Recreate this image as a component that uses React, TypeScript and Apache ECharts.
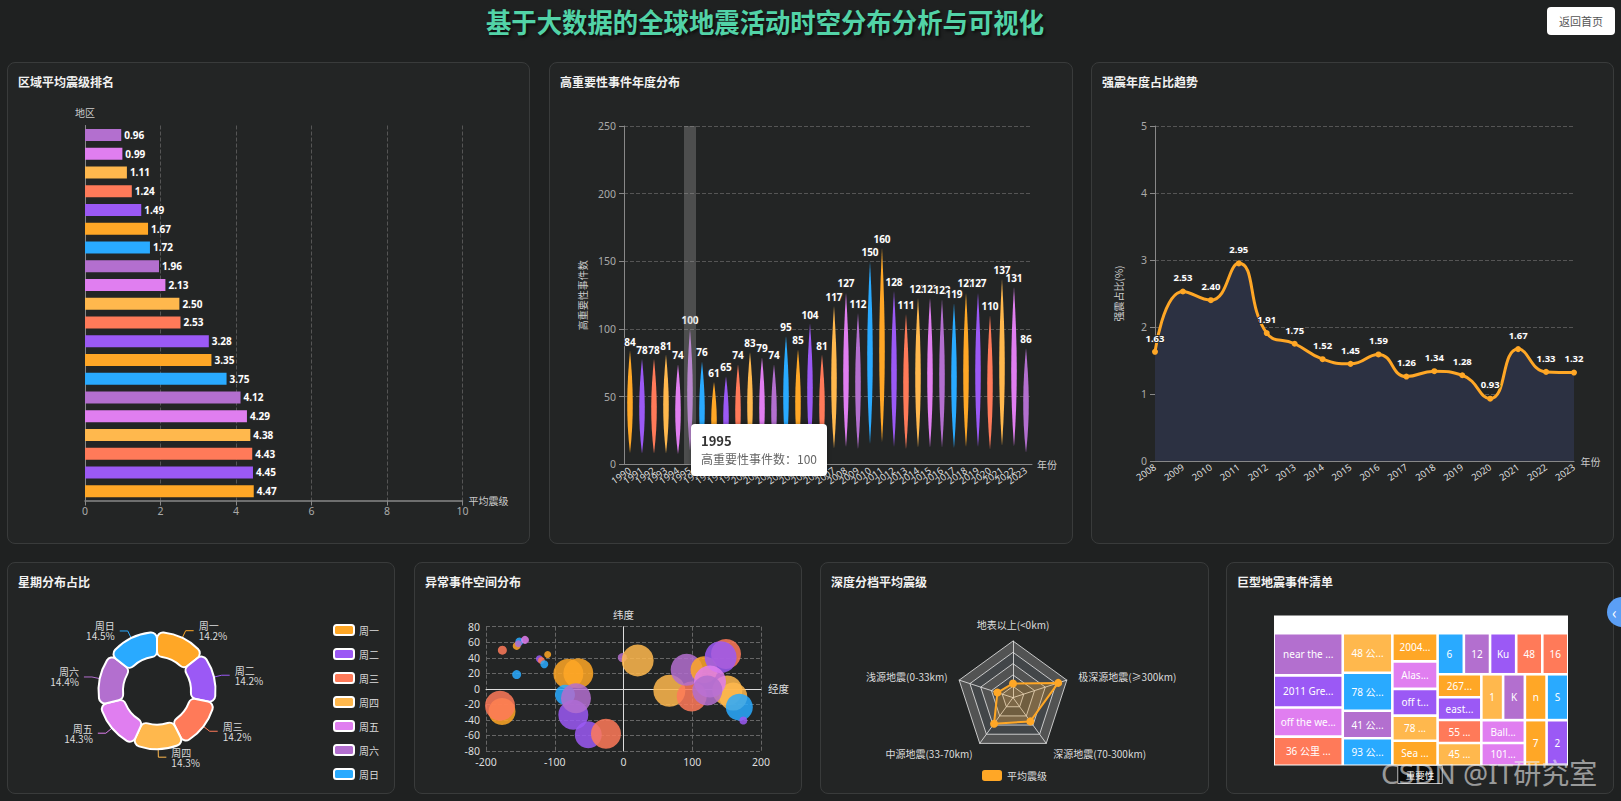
import React, { useEffect, useLayoutEffect, useRef } from 'react';
import * as echarts from 'echarts';

const PALETTE = ['#ffa726', '#9b59f5', '#ff7a59', '#ffb84d', '#e07ef0', '#b36fcf', '#29aaff'];
const FONT = "'Noto Sans', 'Noto Sans CJK SC', sans-serif";
const CJK = "'Noto Sans CJK SC', 'Noto Sans', sans-serif";

// ---------- 区域平均震级排名 (index 0 = bottom bar) ----------
const regionNames = ['汤加群岛', '斐济群岛', '智利中部', '苏门答腊', '日本本州', '千岛群岛', '秘鲁沿海', '巴布亚新几内亚', '所罗门群岛', '阿留申群岛',
  '墨西哥南部', '菲律宾群岛', '新西兰', '中国西部', '伊朗', '土耳其', '阿拉斯加', '加利福尼亚', '夏威夷', '内华达'];
const regionAvgMag = [4.47, 4.45, 4.43, 4.38, 4.29, 4.12, 3.75, 3.35, 3.28, 2.53, 2.50, 2.13, 1.96, 1.72, 1.67, 1.49, 1.24, 1.11, 0.99, 0.96];

// ---------- 高重要性事件年度分布 ----------
const eventYears = ['1990', '1991', '1992', '1993', '1994', '1995', '1996', '1997', '1998', '1999', '2000', '2001', '2002', '2003', '2004', '2005', '2006',
  '2007', '2008', '2009', '2010', '2011', '2012', '2013', '2014', '2015', '2016', '2017', '2018', '2019', '2020', '2021', '2022', '2023'];
const eventCounts = [84, 78, 78, 81, 74, 100, 76, 61, 65, 74, 83, 79, 74, 95, 85, 104, 81, 117, 127, 112, 150, 160, 128, 111, 123, 123, 122, 119, 127, 127, 110, 137, 131, 86];
const tooltipYearIndex = 5;

// ---------- 强震年度占比趋势 ----------
const strongYears = ['2008', '2009', '2010', '2011', '2012', '2013', '2014', '2015', '2016', '2017', '2018', '2019', '2020', '2021', '2022', '2023'];
const strongRatio = [1.63, 2.53, 2.40, 2.95, 1.91, 1.75, 1.52, 1.45, 1.59, 1.26, 1.34, 1.28, 0.93, 1.67, 1.33, 1.32];

// ---------- 星期分布占比 ----------
const weekdays = ['周一', '周二', '周三', '周四', '周五', '周六', '周日'];
const weekdayCounts = [1420, 1418, 1421, 1430, 1432, 1440, 1452];

// ---------- 异常事件空间分布 [经度, 纬度, 气泡大小] ----------
const anomalyPoints = [
  [-176.2, 49.8, 9], [-155.4, 55.3, 8], [-151.5, 60.9, 8], [-143.3, 63, 8], [-153, 58, 7], [-155.4, 18.4, 9],
  [-122.4, 38.6, 7], [-119.5, 36.5, 7], [-115.2, 31.7, 8], [-110.3, 44.2, 7],
  [-176.7, -29.2, 27], [-179.6, -21.9, 30], [-80.2, 19.3, 30], [-65.7, 20.2, 30], [-85.1, -7.7, 20],
  [-73, -33.5, 30], [-69.1, -12, 30], [-51.2, -59.2, 27], [-25.5, -57.9, 30], [-1.7, 40.3, 9], [20.6, 36.5, 32],
  [66.7, -2.6, 32], [99.2, -9.9, 30], [91.9, 24.5, 32], [117.1, 24.5, 27], [149.1, 45, 30], [141.3, 40.8, 32],
  [151, -2.1, 30], [159.7, -9.9, 28], [168.5, -23.6, 27], [174.3, -40.8, 8], [125.8, 9.4, 32], [122, -2.1, 30],
];
const anomalyColorIdx = [2, 0, 6, 4, 5, 6, 1, 2, 6, 0, 0, 2, 0, 0, 6, 1, 5, 1, 2, 5, 3, 3, 2, 5, 0, 2, 1, 3, 3, 6, 1, 4, 5];

// ---------- 深度分档平均震级 ----------
const depthBins = ['地表以上(<0km)', '浅源地震(0-33km)', '中源地震(33-70km)', '深源地震(70-300km)', '极深源地震(≥300km)'];
const depthAvgMag = [1.5, 1.74, 3.42, 3.12, 5.04];
const depthMax = 6;

// ---------- 巨型地震事件清单 ----------
const giantNames = [
  'near the east coast of Honshu, Japan', '2011 Great Tohoku Earthquake, Japan', 'off the west coast of northern Sumatra',
  '36 公里 西南偏西 of Quellón, Chile', '48 公里 东北偏东 of Ishinomaki, Japan', '78 公里 西南 of Sand Point, Alaska',
  '41 公里 西南 of Coquimbo, Chile', '93 公里 东 of Severo-Kuril\'sk, Russia', '2004 Sumatra-Andaman Islands Earthquake',
  'Alaska Peninsula', 'off the coast of Jalisco, Mexico', '78 公里 西北 of Iquique, Chile', 'Sea of Okhotsk',
  '6 公里 西南 of Pedernales, Ecuador', '12 公里 西北 of Kaikoura, New Zealand', 'Kuril Islands', '48 公里 东 of Pangai, Tonga',
  '16 公里 西南 of Illapel, Chile', '267 公里 东南 of Raoul Island', 'east of the Kuril Islands', '55 公里 南 of Chignik, Alaska',
  '45 公里 西 of Iquique, Chile', '125 公里 东 of Kokopo, PNG', 'Kermadec Islands, New Zealand', 'near the coast of central Peru',
  'Solomon Islands', 'Balleny Islands region', '101 公里 东南 of Sand Point, Alaska', '7 公里 西北 of Lata, Solomon Islands',
  '2 公里 东 of Mota Lava, Vanuatu',
];
const giantSignificance = [2910, 2212, 2014, 2013, 1964, 1881, 1365, 1364, 1273, 1243, 1212, 1135, 1133,
  1077, 1075, 1073, 1071, 1067, 1002, 1001, 1000, 999, 998, 997, 996, 995, 994, 993, 992, 991];
const giantColorIdx = [5, 1, 4, 2, 3, 6, 5, 6, 0, 4, 1, 3, 0, 6, 5, 1, 2, 2, 0, 1, 2, 3, 3, 5, 0, 6, 4, 4, 0, 1];

const valueLabel = { color: '#fff', textBorderColor: '#2b2b2b', textBorderWidth: 2, fontSize: 10, fontWeight: 'bold', fontFamily: FONT };
const axisNameStyle = { color: '#ccc', fontSize: 10, fontFamily: CJK };
const dashed = { lineStyle: { color: '#555', type: 'dashed' } };
const SPINDLE = 'path://M50,0 C58,35 60,65 50,100 C40,65 42,35 50,0 Z';

const optRegion: any = {
  animation: false,
  textStyle: { fontFamily: FONT },
  grid: { left: 78, top: 63.5, width: 377.5, height: 375 },
  xAxis: {
    type: 'value', min: 0, max: 10, interval: 2, name: '平均震级', nameGap: 6, nameTextStyle: axisNameStyle,
    axisLine: { show: true, lineStyle: { color: '#888', width: 1.5 } },
    axisTick: { show: true, lineStyle: { color: '#888' } },
    axisLabel: { color: '#aaa', fontSize: 10.5, margin: 5 },
    splitLine: dashed,
  },
  yAxis: {
    type: 'category', data: regionNames, name: '地区', nameGap: 8, nameTextStyle: axisNameStyle,
    axisLine: { show: true, lineStyle: { color: '#888' } }, axisTick: { show: false }, axisLabel: { show: false },
  },
  series: [{
    type: 'bar', barWidth: 12,
    data: regionAvgMag.map((v, i) => ({ value: v, itemStyle: { color: PALETTE[i % 7] } })),
    label: { show: true, position: 'right', distance: 3, ...valueLabel, formatter: (p: any) => p.value.toFixed(2) },
  }],
};

const optEvents: any = {
  animation: false,
  textStyle: { fontFamily: FONT },
  grid: { left: 75, top: 64, width: 408, height: 338.3 },
  tooltip: {
    trigger: 'axis', triggerOn: 'none', alwaysShowContent: true, transitionDuration: 0,
    axisPointer: { type: 'shadow', shadowStyle: { color: 'rgba(165,165,165,0.33)' } },
    backgroundColor: '#fff', borderColor: '#fff', borderWidth: 0, padding: [8, 10],
    extraCssText: 'box-shadow: 0 0 4px rgba(0,0,0,0.35); border-radius: 4px;',
    position: [141.5, 362],
    formatter: (ps: any) => {
      const p = ps[0];
      return `<div style="font-family:${CJK.replace(/'/g, '')};font-size:13px;font-weight:bold;color:#333;line-height:18px">${p.name}</div>` +
        `<div style="font-family:${CJK.replace(/'/g, '')};font-size:12px;color:#666;line-height:18px">高重要性事件数：${p.value}</div>`;
    },
  },
  xAxis: {
    type: 'category', data: eventYears, name: '年份', nameGap: 5, nameTextStyle: axisNameStyle,
    axisLine: { lineStyle: { color: '#888' } }, axisTick: { show: false },
    axisLabel: { color: '#ddd', fontSize: 9.5, rotate: 35, interval: 0, margin: 5 },
  },
  yAxis: {
    type: 'value', min: 0, max: 250, interval: 50, name: '高重要性事件数', nameLocation: 'middle', nameGap: 32,
    nameTextStyle: axisNameStyle,
    axisLine: { show: true, lineStyle: { color: '#888' } }, axisTick: { show: true, lineStyle: { color: '#888' } },
    axisLabel: { color: '#aaa', fontSize: 10.5 }, splitLine: dashed,
  },
  series: [{
    type: 'pictorialBar', name: '高重要性事件数', symbol: SPINDLE, symbolSize: [5.5, '90%'], symbolPosition: 'end',
    data: eventCounts.map((v, i) => ({ value: v, itemStyle: { color: PALETTE[i % 7] } })),
    label: { show: true, position: 'top', distance: 4, ...valueLabel },
  }],
};

const optStrong: any = {
  animation: false,
  textStyle: { fontFamily: FONT },
  grid: { left: 64, top: 64, width: 419, height: 335 },
  xAxis: {
    type: 'category', boundaryGap: false, data: strongYears, name: '年份', nameGap: 6, nameTextStyle: axisNameStyle,
    axisLine: { lineStyle: { color: '#888' } }, axisTick: { show: false },
    axisLabel: { color: '#ddd', fontSize: 9.5, rotate: 35, interval: 0, margin: 5 },
  },
  yAxis: {
    type: 'value', min: 0, max: 5, interval: 1, name: '强震占比(%)', nameLocation: 'middle', nameGap: 32,
    nameTextStyle: axisNameStyle,
    axisLine: { show: true, lineStyle: { color: '#888' } }, axisTick: { show: true, lineStyle: { color: '#888' } },
    axisLabel: { color: '#aaa', fontSize: 10.5 }, splitLine: dashed,
  },
  series: [{
    type: 'line', smooth: true, data: strongRatio, symbol: 'circle', symbolSize: 6,
    lineStyle: { color: '#ffa726', width: 3 }, itemStyle: { color: '#ffa726' },
    areaStyle: { color: '#2c3142', opacity: 1 },
    label: { show: true, position: 'top', distance: 6, ...valueLabel, fontSize: 9.5, formatter: (p: any) => p.value.toFixed(2) },
  }],
};

const optWeek: any = {
  animation: false,
  textStyle: { fontFamily: CJK },
  color: PALETTE,
  legend: {
    orient: 'vertical', left: 321, top: 57, itemWidth: 20, itemHeight: 10, itemGap: 12,
    textStyle: { color: '#ddd', fontSize: 10 }, data: weekdays,
  },
  series: [{
    type: 'pie', center: [150, 128.7], radius: [34, 58.5],
    itemStyle: { borderRadius: 6, borderColor: '#fff', borderWidth: 2 },
    label: { color: '#ddd', fontSize: 10, lineHeight: 10, formatter: (p: any) => `${p.name}\n${p.percent.toFixed(1)}%` },
    labelLine: { length: 8, length2: 8 },
    data: weekdays.map((n, i) => ({ name: n, value: weekdayCounts[i] })),
  }],
};

const zeroAxisLine = { lineStyle: { color: '#ddd' } };
const optAnomaly: any = {
  animation: false,
  textStyle: { fontFamily: FONT },
  grid: { left: 72, top: 64.7, width: 275, height: 124.3 },
  xAxis: [
    {
      type: 'value', min: -200, max: 200, interval: 100, position: 'bottom', name: '经度', nameGap: 7,
      nameTextStyle: { ...axisNameStyle, color: '#ddd', fontSize: 10.5 },
      axisLine: { onZero: true, ...zeroAxisLine }, axisTick: { show: false }, axisLabel: { show: false },
      splitLine: { lineStyle: { color: '#666', type: 'dashed' } },
    },
    {
      type: 'value', min: -200, max: 200, interval: 100, position: 'bottom',
      axisLine: { show: false, onZero: false }, axisTick: { show: false },
      axisLabel: { color: '#ddd', fontSize: 10.5, margin: 6 }, splitLine: { show: false },
    },
  ],
  yAxis: [
    {
      type: 'value', min: -80, max: 80, interval: 20, position: 'left', name: '纬度', nameGap: 7,
      nameTextStyle: { ...axisNameStyle, color: '#ddd', fontSize: 10.5 },
      axisLine: { onZero: true, ...zeroAxisLine }, axisTick: { show: false }, axisLabel: { show: false },
      splitLine: { lineStyle: { color: '#666', type: 'dashed' } },
    },
    {
      type: 'value', min: -80, max: 80, interval: 20, position: 'left',
      axisLine: { show: false, onZero: false }, axisTick: { show: false },
      axisLabel: { color: '#ddd', fontSize: 10.5, margin: 6 }, splitLine: { show: false },
    },
  ],
  series: [{
    type: 'scatter', xAxisIndex: 0, yAxisIndex: 0,
    symbolSize: (v: number[]) => v[2],
    data: anomalyPoints.map((p, i) => ({ value: p, itemStyle: { color: PALETTE[anomalyColorIdx[i]] } })),
    itemStyle: { opacity: 0.85 },
  }],
};

const optDepth: any = {
  animation: false,
  textStyle: { fontFamily: CJK },
  legend: {
    left: 'center', top: 203, itemWidth: 20, itemHeight: 11, data: ['平均震级'],
    textStyle: { color: '#ddd', fontSize: 10 },
  },
  radar: {
    center: [193, 135.6], radius: 56.6, splitNumber: 5, nameGap: 12,
    indicator: depthBins.map((n) => ({ name: n, max: depthMax })),
    axisName: { color: '#ddd', fontSize: 10 },
    splitLine: { lineStyle: { color: 'rgba(225,225,225,0.85)' } },
    axisLine: { lineStyle: { color: 'rgba(225,225,225,0.85)' } },
    splitArea: { areaStyle: { color: ['rgba(250,250,250,0.22)', 'rgba(210,219,238,0.18)'] } },
  },
  series: [{
    type: 'radar', name: '平均震级', symbol: 'circle', symbolSize: 8,
    lineStyle: { color: '#ffa726', width: 2 }, itemStyle: { color: '#ffa726' },
    areaStyle: { color: 'rgba(255,167,38,0.35)' },
    data: [{ name: '平均震级', value: depthAvgMag }],
  }],
};

const optGiant: any = {
  animation: false,
  textStyle: { fontFamily: FONT },
  series: [{
    type: 'treemap', name: '重要性', left: 48, top: 53.5, width: 294, height: 150,
    roam: false, nodeClick: false,
    breadcrumb: {
      show: true, left: 'center', bottom: 10, height: 18,
      itemStyle: { color: 'rgba(0,0,0,0.7)', borderColor: 'rgba(255,255,255,0.7)', borderWidth: 1, textStyle: { color: '#fff', fontSize: 9.5, fontFamily: CJK } },
    },
    label: { show: true, position: 'inside', color: '#fff', fontSize: 10, padding: [2, 5], fontFamily: FONT },
    levels: [
      { itemStyle: { borderColor: '#fff', borderWidth: 1, gapWidth: 2.6 }, upperLabel: { show: true, height: 19, color: '#fff', formatter: () => '' } },
      { itemStyle: { borderWidth: 0, gapWidth: 0 } },
    ],
    data: giantNames.map((n, i) => ({ name: n, value: giantSignificance[i], itemStyle: { color: PALETTE[giantColorIdx[i]] } })),
  }],
};

function Panel(props: { x: number; y: number; w: number; h: number; title: string; option: any; after?: (c: any) => void }) {
  const { x, y, w, h, title, option, after } = props;
  const ref = useRef<HTMLDivElement>(null);
  useEffect(() => {
    const chart = echarts.init(ref.current as HTMLDivElement, null, { renderer: 'svg' });
    chart.setOption(option);
    if (after) after(chart);
    return () => chart.dispose();
  }, []);
  return (
    <div style={{ position: 'absolute', left: x, top: y, width: w, height: h, boxSizing: 'border-box', background: '#232525', border: '1px solid #393b3b', borderRadius: 8 }}>
      <div ref={ref} style={{ position: 'absolute', left: -1, top: -1, width: w, height: h }} />
      <div style={{ position: 'absolute', left: 10, top: 12, fontSize: 12, fontWeight: 700, color: '#f2f2f2', fontFamily: CJK, lineHeight: '14px', pointerEvents: 'none', whiteSpace: 'nowrap' }}>{title}</div>
    </div>
  );
}

const TITLE_LEFT = 486;
const TITLE_WIDTH = 558;

function Title() {
  const ref = useRef<HTMLSpanElement>(null);
  useLayoutEffect(() => {
    const el = ref.current;
    if (!el) return;
    el.style.transform = 'none';
    const w = el.getBoundingClientRect().width;
    if (w > 0) el.style.transform = `scaleX(${TITLE_WIDTH / w})`;
  }, []);
  return (
    <div style={{ position: 'absolute', left: TITLE_LEFT, top: 8, width: TITLE_WIDTH, height: 28 }}>
      <span ref={ref} style={{ display: 'inline-block', transformOrigin: '0 0', fontSize: 27, lineHeight: '28px', fontWeight: 700, color: '#52d3a7', textShadow: '2px 2px 3px rgba(0,0,0,0.6)', whiteSpace: 'nowrap' }}>
        基于大数据的全球地震活动时空分布分析与可视化
      </span>
    </div>
  );
}

export default function App() {
  return (
    <div style={{ position: 'fixed', left: 0, top: 0, width: 1621, height: 801, background: '#1f2121', overflow: 'hidden', fontFamily: CJK }}>
      <Title />
      <div style={{ position: 'absolute', left: 1547, top: 7, width: 68, height: 28, background: '#fff', borderRadius: 4, fontSize: 11, lineHeight: '28px', textAlign: 'center', color: '#555' }}>返回首页</div>

      <Panel x={7} y={62} w={523} h={482} title="区域平均震级排名" option={optRegion} />
      <Panel x={549} y={62} w={524} h={482} title="高重要性事件年度分布" option={optEvents}
        after={(c) => c.dispatchAction({ type: 'showTip', seriesIndex: 0, dataIndex: tooltipYearIndex })} />
      <Panel x={1091} y={62} w={523} h={482} title="强震年度占比趋势" option={optStrong} />

      <Panel x={7} y={562} w={388} h={232} title="星期分布占比" option={optWeek} />
      <Panel x={414} y={562} w={388} h={232} title="异常事件空间分布" option={optAnomaly} />
      <Panel x={820} y={562} w={389} h={232} title="深度分档平均震级" option={optDepth} />
      <Panel x={1226} y={562} w={388} h={232} title="巨型地震事件清单" option={optGiant} />

      <div style={{ position: 'absolute', left: 1607, top: 597, width: 30, height: 30, borderRadius: 15, background: '#5b9ff5', color: '#fff', fontSize: 16, lineHeight: '30px', paddingLeft: 5, boxSizing: 'border-box' }}>‹</div>
      <div style={{ position: 'absolute', left: 1381, top: 756, fontSize: 28, lineHeight: '34px', color: 'rgba(235,235,235,0.6)', whiteSpace: 'nowrap', fontFamily: "'Noto Sans', 'Noto Sans CJK SC', sans-serif", pointerEvents: 'none' }}>CSDN @IT研究室</div>
    </div>
  );
}
